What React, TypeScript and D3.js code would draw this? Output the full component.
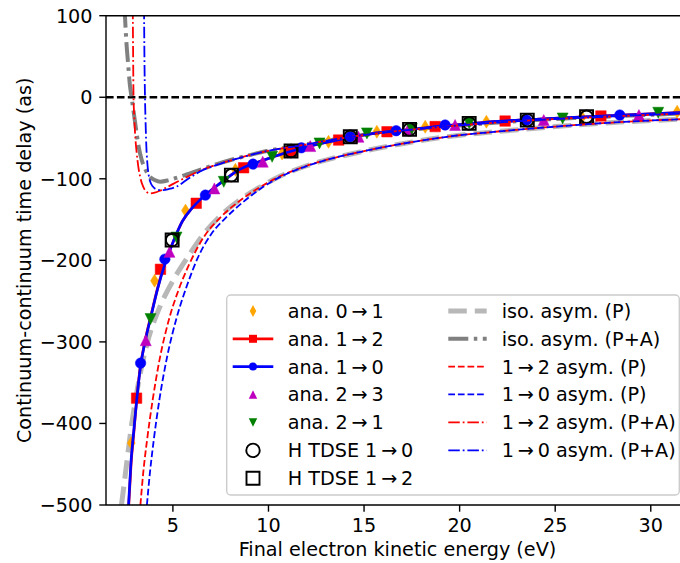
import React from "react";
import * as d3 from "d3";

// ---------- data (energy eV, delay as) ----------
const energyTicks = [5, 10, 15, 20, 25, 30];
const delayTicks = [100, 0, -100, -200, -300, -400, -500];

// analytic markers
const ana01 = [[2.82, -424], [4.04, -225], [5.66, -139], [8.27, -89], [10.71, -69], [13.14, -54.6], [15.67, -42.3], [18.2, -36.2], [21.4, -30], [26.4, -24.5], [31.38, -17.8]];
const ana12 = [[3.1, -369], [4.35, -211], [6.22, -130], [8.7, -86.5], [11.18, -67], [13.67, -52.5], [16.2, -42.3], [18.72, -36], [22.38, -29.2], [27.39, -23]];
const ana10 = [[3.31, -326], [4.58, -198.5], [6.7, -120], [9.19, -82], [11.72, -62], [14.28, -48.5], [16.68, -41], [19.24, -34], [23.5, -28], [28.38, -21.8]];
const ana23 = [[3.58, -298], [4.82, -189.6], [7.17, -111.8], [9.7, -79], [12.19, -59.9], [14.71, -48.5], [17.3, -39.5], [19.76, -34], [24.4, -28], [29.38, -21.8]];
const ana21 = [[3.83, -272], [5.19, -172], [7.66, -103.7], [10.19, -73], [12.67, -56.6], [15.15, -44.3], [17.5, -39], [20.5, -32], [25.39, -26], [30.39, -19]];

// analytic curves
const ana12Line = [[2.69, -500], [2.81, -450], [2.96, -410], [3.1, -372], [3.3, -330], [3.55, -298], [3.85, -268], [4.2, -234], [4.6, -202], [5.0, -178], [5.5, -152], [6.0, -136], [6.5, -124], [7.0, -114], [7.5, -105], [8.0, -96], [8.5, -88.5], [9.0, -83], [9.5, -79], [10.0, -75], [11.0, -67.5], [12.0, -61], [13.0, -55.5], [14.0, -50.5], [15.0, -46], [16.0, -43], [17.0, -40.5], [18.0, -38], [19.0, -35.5], [20.0, -33.5], [22.0, -29.5], [24.0, -27], [26.0, -24.5], [28.0, -22.5], [30.0, -20.5], [32.0, -18.5]];
const ana10Line = [[2.68, -500], [2.8, -450], [2.95, -410], [3.1, -373], [3.3, -331], [3.55, -299], [3.85, -269], [4.2, -235], [4.6, -203], [5.0, -178], [5.5, -152], [6.0, -136], [6.5, -124], [7.0, -114], [7.5, -105], [8.0, -96], [8.5, -88.5], [9.0, -83], [9.5, -79], [10.0, -75], [11.0, -67.5], [12.0, -61], [13.0, -55.5], [14.0, -50.5], [15.0, -46], [16.0, -43], [17.0, -40.5], [18.0, -38], [19.0, -35.5], [20.0, -33.5], [22.0, -29.5], [24.0, -27], [26.0, -24.5], [28.0, -22.5], [30.0, -20.5], [32.0, -18.5]];

// H TDSE
const tdse10 = [[4.96, -175], [8.06, -95.5], [11.18, -66], [14.28, -48.5], [17.38, -39.4], [20.5, -32], [23.54, -28], [26.64, -24]];
const tdse12 = [[4.96, -175], [8.06, -95.5], [11.18, -66], [14.28, -48.5], [17.38, -39.4], [20.5, -32], [23.54, -28], [26.64, -24]];

// asymptotic (P)
const isoP = [[2.31, -500], [2.55, -455], [2.85, -400], [3.2, -350], [3.65, -302], [4.3, -258], [5.0, -225], [5.8, -195], [6.6, -168], [7.5, -145], [8.5, -126], [9.5, -111], [10.6, -97], [12.0, -84], [13.5, -74], [15.0, -66], [17.0, -57], [19.5, -48], [22.0, -42], [25.0, -36], [28.0, -31], [32.0, -26.5]];
const p12 = [[3.3, -500], [3.45, -460], [3.65, -420], [3.95, -370], [4.3, -322], [4.8, -272], [5.3, -236], [5.85, -205], [6.6, -172], [7.5, -147], [8.5, -127], [9.5, -111], [10.6, -97], [12.0, -84], [13.5, -74], [15.0, -66], [17.0, -57], [19.5, -48], [22.0, -42], [25.0, -36], [28.0, -31], [32.0, -26.5]];
const p10 = [[3.64, -500], [3.8, -460], [4.0, -420], [4.3, -370], [4.7, -318], [5.2, -270], [5.75, -230], [6.3, -197], [7.0, -168], [7.8, -147], [8.7, -128], [9.6, -112], [10.6, -98], [12.0, -84.5], [13.5, -74], [15.0, -66], [17.0, -57], [19.5, -48], [22.0, -42], [25.0, -36], [28.0, -31], [32.0, -26.5]];

// asymptotic (P+A)
const isoPA = [[2.47, 110], [2.56, 70], [2.66, 40], [2.75, 15], [2.84, 0], [2.97, -22], [3.1, -44], [3.22, -62], [3.37, -77], [3.55, -88], [3.8, -97.5], [4.05, -101.5], [4.33, -103.5], [4.8, -101.5], [5.37, -97.5], [6.42, -89], [7.3, -82], [8.16, -76], [9.0, -71], [9.91, -66], [11.56, -59.5], [13.0, -53.5], [14.3, -48.5], [16.0, -43.5], [18.0, -38.5], [20.0, -34.5], [22.0, -31], [24.0, -28], [26.0, -25.5], [28.0, -23.5], [30.0, -21.5], [32.0, -19.5]];
const pa12 = [[2.9, 110], [2.92, 50], [2.94, 0], [2.98, -25], [3.02, -44], [3.1, -67], [3.19, -85], [3.3, -99], [3.45, -110], [3.62, -116], [3.8, -118], [4.05, -117], [4.33, -114.5], [4.75, -109.5], [5.2, -104], [5.8, -97], [6.42, -90], [7.3, -82.5], [8.16, -76.5], [9.0, -71], [9.91, -66], [11.56, -59.5], [13.0, -53.5], [14.3, -48.5], [16.0, -43.5], [18.0, -38.5], [20.0, -34.5], [22.0, -31], [24.0, -28], [26.0, -25.5], [28.0, -23.5], [30.0, -21.5], [32.0, -19.5]];
const pa10 = [[3.49, 110], [3.51, 50], [3.54, 0], [3.57, -30], [3.61, -60], [3.66, -80], [3.73, -95], [3.82, -104], [3.95, -109.5], [4.1, -112.5], [4.41, -114], [4.8, -112.5], [5.2, -109.5], [5.8, -100], [6.42, -91], [7.3, -83], [8.16, -76.5], [9.0, -71], [9.91, -66], [11.56, -59.5], [13.0, -53.5], [14.3, -48.5], [16.0, -43.5], [18.0, -38.5], [20.0, -34.5], [22.0, -31], [24.0, -28], [26.0, -25.5], [28.0, -23.5], [30.0, -21.5], [32.0, -19.5]];

const legendLeft = ["ana. 0\u2009\u2192\u20091", "ana. 1\u2009\u2192\u20092", "ana. 1\u2009\u2192\u20090", "ana. 2\u2009\u2192\u20093", "ana. 2\u2009\u2192\u20091", "H TDSE 1\u2009\u2192\u20090", "H TDSE 1\u2009\u2192\u20092"];
const legendRight = ["iso. asym. (P)", "iso. asym. (P+A)", "1\u2009\u2192\u20092 asym. (P)", "1\u2009\u2192\u20090 asym. (P)", "1\u2009\u2192\u20092 asym. (P+A)", "1\u2009\u2192\u20090 asym. (P+A)"];

// ---------- layout ----------
const W = 680, H = 563;
const L = 106, R = 689, T = 15.7, B = 505;
const FONT = "DejaVu Sans";
const FS = 19.2;
const TL = 6.7;

const x = d3.scaleLinear().domain([1.5, 32]).range([L, R]);
const y = d3.scaleLinear().domain([-500, 100]).range([B, T]);
const line = d3.line<number[]>().x(d => x(d[0])).y(d => y(d[1])).curve(d3.curveMonotoneX);

const ORANGE = "#ffa500", RED = "#ff0000", BLUE = "#0000ff", MAG = "#bf00bf", GREEN = "#008000";

function diamond(w: number, h: number) { return `M0,${-h / 2}L${w / 2},0L0,${h / 2}L${-w / 2},0Z`; }
function triUp(s: number) { return `M0,${-s / 2}L${s / 2},${s / 2}L${-s / 2},${s / 2}Z`; }
function triDown(s: number) { return `M0,${s / 2}L${s / 2},${-s / 2}L${-s / 2},${-s / 2}Z`; }
function square(s: number) { return `M${-s / 2},${-s / 2}h${s}v${s}h${-s}Z`; }
function circle(s: number) { const r = s / 2; return `M${r},0A${r},${r} 0 1,1 ${-r},0A${r},${r} 0 1,1 ${r},0Z`; }

function Markers({ data, path, fill, stroke, sw = 1 }: any) {
  return <g>{data.map((d: number[], i: number) => (
    <path key={i} d={path} transform={`translate(${x(d[0])},${y(d[1])})`} fill={fill} stroke={stroke} strokeWidth={sw} />
  ))}</g>;
}

export default function App() {
  const rowY = [311, 338.8, 366.6, 394.4, 422.4, 450.4, 478.3];
  const c1a = 232.7, c1b = 273.3, c1m = 253, t1 = 287.7;
  const c2a = 448.3, c2b = 486.7, t2 = 501.7;
  return (
    <svg width={W} height={H} style={{ position: "absolute", left: 0, top: 0, background: "#fff" }} fontFamily={FONT}>
      <defs>
        <clipPath id="plot"><rect x={L} y={T} width={R - L} height={B - T} /></clipPath>
      </defs>
      <rect x={0} y={0} width={W} height={H} fill="#fff" />
      <g clipPath="url(#plot)">
        <line x1={L} x2={R} y1={y(0)} y2={y(0)} stroke="#000" strokeWidth={2.6} strokeDasharray="7.6 3.3" />
        <path d={line(isoP as any) || ""} fill="none" stroke="#b8b8b8" strokeWidth={5} strokeDasharray="18.5 8" />
        <path d={line(isoPA as any) || ""} fill="none" stroke="#808080" strokeWidth={4} strokeDasharray="20 5.5 3.5 5.5" />
        <Markers data={ana01} path={diamond(8, 13)} fill={ORANGE} stroke={ORANGE} sw={0.5} />
        <path d={line(ana12Line as any) || ""} fill="none" stroke={RED} strokeWidth={2.7} />
        <Markers data={ana12} path={square(10.5)} fill={RED} stroke={RED} sw={0.5} />
        <path d={line(ana10Line as any) || ""} fill="none" stroke={BLUE} strokeWidth={2.7} />
        <Markers data={ana10} path={circle(10.5)} fill={BLUE} stroke={BLUE} sw={0.5} />
        <Markers data={ana23} path={triUp(11)} fill={MAG} stroke={MAG} sw={0.5} />
        <Markers data={ana21} path={triDown(11)} fill={GREEN} stroke={GREEN} sw={0.5} />
        <Markers data={tdse10} path={circle(12.5)} fill="none" stroke="#000" sw={1.9} />
        <Markers data={tdse12} path={square(13)} fill="none" stroke="#000" sw={1.9} />
        <path d={line(p12 as any) || ""} fill="none" stroke={RED} strokeWidth={1.8} strokeDasharray="6.7 2.9" />
        <path d={line(p10 as any) || ""} fill="none" stroke={BLUE} strokeWidth={1.8} strokeDasharray="6.7 2.9" />
        <path d={line(pa12 as any) || ""} fill="none" stroke={RED} strokeWidth={1.8} strokeDasharray="11.5 2.9 1.8 2.9" />
        <path d={line(pa10 as any) || ""} fill="none" stroke={BLUE} strokeWidth={1.8} strokeDasharray="11.5 2.9 1.8 2.9" />
      </g>
      {/* spines */}
      <line x1={L} x2={L} y1={T} y2={B} stroke="#000" strokeWidth={1.4} />
      <line x1={L} x2={R} y1={B} y2={B} stroke="#000" strokeWidth={1.4} />
      <line x1={L} x2={R} y1={T} y2={T} stroke="#000" strokeWidth={1.4} />
      <line x1={R} x2={R} y1={T} y2={B} stroke="#000" strokeWidth={1.4} />
      {/* ticks */}
      {energyTicks.map(t => (
        <g key={t}>
          <line x1={x(t)} x2={x(t)} y1={B} y2={B + TL} stroke="#000" strokeWidth={1.4} />
          <text x={x(t)} y={B + 26.5} fontSize={FS} textAnchor="middle" fill="#000">{t}</text>
        </g>
      ))}
      {delayTicks.map(t => (
        <g key={t}>
          <line x1={L - TL} x2={L} y1={y(t)} y2={y(t)} stroke="#000" strokeWidth={1.4} />
          <text x={L - 13.5} y={y(t) + 7} fontSize={FS} textAnchor="end" fill="#000">{t < 0 ? "\u2212" + Math.abs(t) : t}</text>
        </g>
      ))}
      <text x={(L + R) / 2} y={556} fontSize={FS} textAnchor="middle" fill="#000">Final electron kinetic energy (eV)</text>
      <text transform={`translate(30.5,${(T + B) / 2}) rotate(-90)`} fontSize={FS} textAnchor="middle" fill="#000">Continuum-continuum time delay (as)</text>
      {/* legend */}
      <rect x={226.7} y={295} width={452.6} height={200} rx={4} fill="#fff" fillOpacity={0.8} stroke="#cccccc" strokeWidth={1.4} />
      <g>
        <path d={diamond(6.5, 12)} transform={`translate(${c1m},${rowY[0]})`} fill={ORANGE} />
        <line x1={c1a} x2={c1b} y1={rowY[1]} y2={rowY[1]} stroke={RED} strokeWidth={2.7} />
        <path d={square(8)} transform={`translate(${c1m},${rowY[1]})`} fill={RED} />
        <line x1={c1a} x2={c1b} y1={rowY[2]} y2={rowY[2]} stroke={BLUE} strokeWidth={2.7} />
        <path d={circle(8)} transform={`translate(${c1m},${rowY[2]})`} fill={BLUE} />
        <path d={triUp(8.5)} transform={`translate(${c1m},${rowY[3]})`} fill={MAG} />
        <path d={triDown(8.5)} transform={`translate(${c1m},${rowY[4]})`} fill={GREEN} />
        <path d={circle(13.5)} transform={`translate(${c1m},${rowY[5]})`} fill="none" stroke="#000" strokeWidth={1.9} />
        <path d={square(13)} transform={`translate(${c1m},${rowY[6]})`} fill="none" stroke="#000" strokeWidth={1.9} />
        {legendLeft.map((s, i) => (
          <text key={s} x={t1} y={rowY[i] + 7} fontSize={FS} fill="#000">{s}</text>
        ))}
        <line x1={c2a} x2={c2b} y1={rowY[0]} y2={rowY[0]} stroke="#b8b8b8" strokeWidth={5} strokeDasharray="18.5 8" />
        <line x1={c2a} x2={c2b} y1={rowY[1]} y2={rowY[1]} stroke="#808080" strokeWidth={4} strokeDasharray="20 5.5 3.5 5.5" />
        <line x1={c2a} x2={c2b} y1={rowY[2]} y2={rowY[2]} stroke={RED} strokeWidth={1.8} strokeDasharray="6.7 2.9" />
        <line x1={c2a} x2={c2b} y1={rowY[3]} y2={rowY[3]} stroke={BLUE} strokeWidth={1.8} strokeDasharray="6.7 2.9" />
        <line x1={c2a} x2={c2b} y1={rowY[4]} y2={rowY[4]} stroke={RED} strokeWidth={1.8} strokeDasharray="11.5 2.9 1.8 2.9" />
        <line x1={c2a} x2={c2b} y1={rowY[5]} y2={rowY[5]} stroke={BLUE} strokeWidth={1.8} strokeDasharray="11.5 2.9 1.8 2.9" />
        {legendRight.map((s, i) => (
          <text key={s} x={t2} y={rowY[i] + 7} fontSize={FS} fill="#000">{s}</text>
        ))}
      </g>
    </svg>
  );
}
